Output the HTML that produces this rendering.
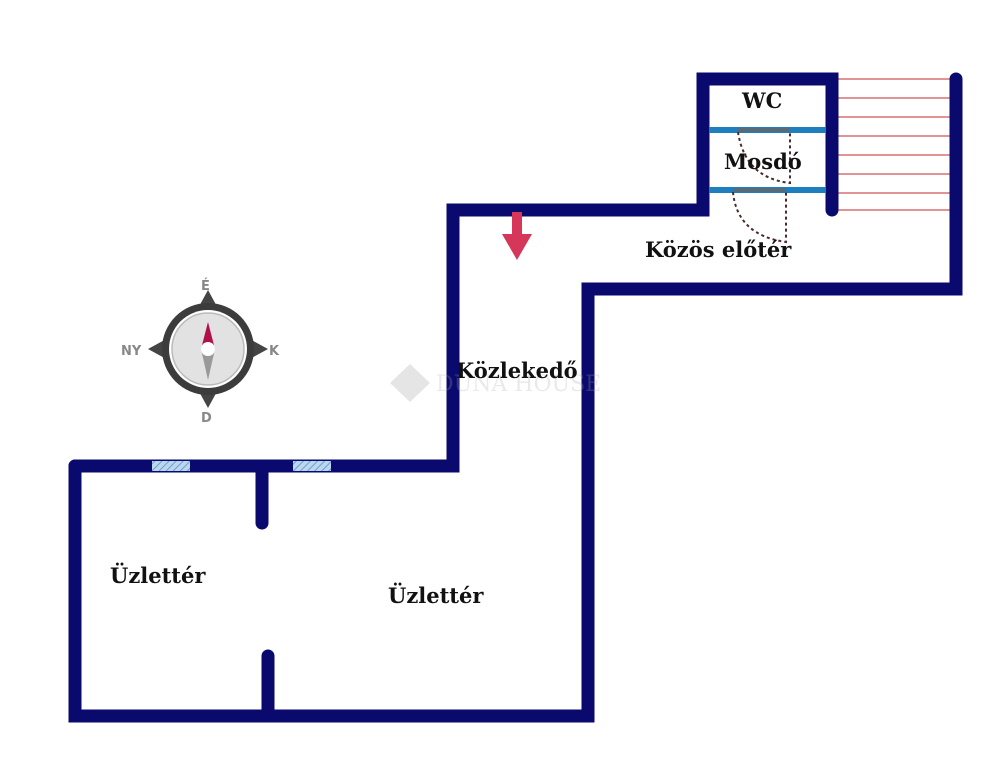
<!DOCTYPE html>
<html><head><meta charset="utf-8"><style>
html,body{margin:0;padding:0;background:#fff;}
svg{display:block}
text{font-family:"DejaVu Serif","Liberation Serif",serif;font-weight:bold;fill:#111}
</style></head><body>
<svg width="1007" height="768" viewBox="0 0 1007 768" xmlns="http://www.w3.org/2000/svg">
<defs>
<pattern id="h" width="5" height="5" patternUnits="userSpaceOnUse" patternTransform="rotate(45)">
<rect width="5" height="5" fill="#bcd6ee"/><line x1="0" y1="0" x2="0" y2="5" stroke="#6aa0d0" stroke-width="2"/>
</pattern>
</defs>
<g stroke="#d87070" stroke-width="1.5">
<line x1="838" y1="79" x2="950" y2="79"/><line x1="838" y1="98" x2="950" y2="98"/>
<line x1="838" y1="117" x2="950" y2="117"/><line x1="838" y1="136" x2="950" y2="136"/>
<line x1="838" y1="155" x2="950" y2="155"/><line x1="838" y1="174" x2="950" y2="174"/>
<line x1="838" y1="193" x2="950" y2="193"/><line x1="838" y1="210" x2="950" y2="210"/>
</g>
<g stroke="#0a0a6e" stroke-width="13" fill="none" stroke-linecap="round" stroke-linejoin="miter">
<path d="M75 466 L75 716 L588 716 L588 289 L956 289 L956 79"/>
<path d="M75 466 L453 466 L453 210 L703 210 L703 79 L832 79 L832 210"/>
<line x1="262" y1="466" x2="262" y2="523"/>
<line x1="268" y1="656" x2="268" y2="716"/>
</g>
<rect x="152" y="461" width="38" height="10" fill="url(#h)"/>
<rect x="293" y="461" width="38" height="10" fill="url(#h)"/>
<g stroke="#1e7fbf" stroke-width="6">
<line x1="709" y1="130" x2="826" y2="130"/><line x1="709" y1="190" x2="826" y2="190"/>
</g>
<g stroke="#666" stroke-width="3">
<line x1="738" y1="130" x2="790" y2="130"/><line x1="733" y1="190" x2="786" y2="190"/>
</g>
<g stroke="#4a2a2a" stroke-width="2" stroke-dasharray="3,3" fill="none">
<path d="M738 132 Q745 178 790 183 L790 132"/>
<path d="M733 192 Q737 235 786 242 L786 192"/>
</g>
<path d="M512 212 L522 212 L522 234 L532 234 L517 260 L502 234 L512 234 Z" fill="#d6365a"/>
<g opacity="0.25">
<path d="M410 364 L430 383 L410 402 L390 383 Z" fill="#999"/>
<text x="436" y="391" font-size="22" style="font-weight:normal;fill:#aaa">DUNA HOUSE</text>
</g>
<g>
<path d="M208 290 L220 312 L208 318 L196 312 Z" fill="#444"/>
<path d="M208 408 L220 386 L208 380 L196 386 Z" fill="#444"/>
<path d="M148 349 L170 337 L176 349 L170 361 Z" fill="#444"/>
<path d="M268 349 L246 337 L240 349 L246 361 Z" fill="#444"/>
<circle cx="208" cy="349" r="46" fill="#3c3c3c"/>
<circle cx="208" cy="349" r="39" fill="#fff"/>
<circle cx="208" cy="349" r="36" fill="#e2e2e2" stroke="#bbb" stroke-width="1.5"/>
<path d="M208 322 L215 349 L201 349 Z" fill="#b0104a"/>
<path d="M208 380 L215 349 L201 349 Z" fill="#999"/>
<circle cx="208" cy="349" r="7" fill="#fff"/>
<text x="201" y="290" font-size="13" style="font-family:'DejaVu Sans',sans-serif;fill:#888">É</text>
<text x="121" y="355" font-size="13" style="font-family:'DejaVu Sans',sans-serif;fill:#888">NY</text>
<text x="269" y="355" font-size="13" style="font-family:'DejaVu Sans',sans-serif;fill:#888">K</text>
<text x="201" y="422" font-size="13" style="font-family:'DejaVu Sans',sans-serif;fill:#888">D</text>
</g>
<text x="742" y="108" font-size="21">WC</text>
<text x="724" y="169" font-size="21">Mosdó</text>
<text x="645" y="257" font-size="21">Közös előtér</text>
<text x="456" y="378" font-size="21">Közlekedő</text>
<text x="110" y="583" font-size="21">Üzlettér</text>
<text x="388" y="603" font-size="21">Üzlettér</text>
</svg>
</body></html>
